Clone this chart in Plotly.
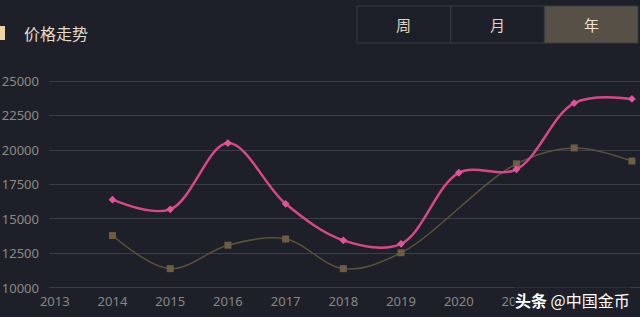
import plotly.graph_objects as go

years = [2014, 2015, 2016, 2017, 2018, 2019, 2020, 2021, 2022, 2023]
series_a = [16400, 15700, 20500, 16100, 13450, 13200, 18350, 18600, 23400, 23700]
series_b = [13800, 11400, 13100, 13550, 11400, 12550, None, 19000, 20150, 19200]
x_ticks = list(range(2013, 2024))
y_ticks = [10000, 12500, 15000, 17500, 20000, 22500, 25000]
buttons = ["周", "月", "年"]

W, H = 640, 317
ML, MR, MT, MB = 49, 0, 78, 26
PW, PH = W - ML - MR, H - MT - MB

def px(x):
    return (x - ML) / PW

def py(y):
    return (H - MB - y) / PH

fig = go.Figure()
fig.add_trace(go.Scatter(
    x=years, y=series_b, mode="lines+markers", connectgaps=True,
    line=dict(color="#5e5138", width=1.5, shape="spline", smoothing=1),
    marker=dict(symbol="square", size=7, color="#6e5d40"),
    cliponaxis=False, showlegend=False))
fig.add_trace(go.Scatter(
    x=years, y=series_a, mode="lines+markers",
    line=dict(color="#d8478a", width=2.5, shape="spline", smoothing=1),
    marker=dict(symbol="diamond", size=6, color="#e0559a"),
    cliponaxis=False, showlegend=False))

shapes = []
annotations = []
# title bar
shapes.append(dict(type="rect", xref="paper", yref="paper",
                   x0=px(0), x1=px(5), y0=py(40), y1=py(26),
                   fillcolor="#eed2a6", line=dict(width=0)))
annotations.append(dict(text="价格走势", xref="paper", yref="paper",
                        x=px(22), y=py(33), xanchor="left", yanchor="middle",
                        showarrow=False,
                        font=dict(size=16, color="#e6dccb", family="Noto Sans CJK SC")))
# buttons
bx0, bx1, by0, by1 = 357, 638, 6, 43
bw = (bx1 - bx0) / 3
for i, b in enumerate(buttons):
    x0 = bx0 + i * bw
    shapes.append(dict(type="rect", xref="paper", yref="paper",
                       x0=px(x0), x1=px(x0 + bw), y0=py(by1), y1=py(by0),
                       fillcolor="#575046" if i == 2 else "rgba(0,0,0,0)",
                       line=dict(width=1, color="#383b44")))
    annotations.append(dict(text=b, xref="paper", yref="paper",
                            x=px(x0 + bw / 2), y=py((by0 + by1) / 2),
                            xanchor="center", yanchor="middle",
                            showarrow=False,
                            font=dict(size=15, color="#f2e4cc" if i == 2 else "#e0d4c0",
                                      family="Noto Sans CJK SC")))
# watermark
annotations.append(dict(text="<b>头条</b> @中国金币", xref="paper", yref="paper",
                        x=px(631), y=py(300), xanchor="right", yanchor="middle",
                        showarrow=False, bgcolor="#1d2029", borderpad=0,
                        font=dict(size=16, color="#ffffff", family="Noto Sans CJK SC")))

fig.update_layout(
    width=W, height=H,
    margin=dict(l=ML, r=MR, t=MT, b=MB),
    paper_bgcolor="#1d2029", plot_bgcolor="#1d2029",
    font=dict(family="Noto Sans, Noto Sans CJK SC", size=13, color="#8c8a86"),
    shapes=shapes, annotations=annotations,
    xaxis=dict(range=[2012.9, 2023.14], tickvals=x_ticks,
               ticktext=[str(v) for v in x_ticks],
               showgrid=False, zeroline=False, showline=False,
               tickfont=dict(size=13, color="#8a8780"), ticklabelstandoff=1),
    yaxis=dict(range=[9780, 25220], tickvals=y_ticks,
               ticktext=[str(v) for v in y_ticks],
               showgrid=True, gridcolor="#3b3e48", gridwidth=1,
               zeroline=False, showline=False,
               tickfont=dict(size=13, color="#8f8a80"), ticklabelstandoff=9),
)
fig.write_html("out.html")
